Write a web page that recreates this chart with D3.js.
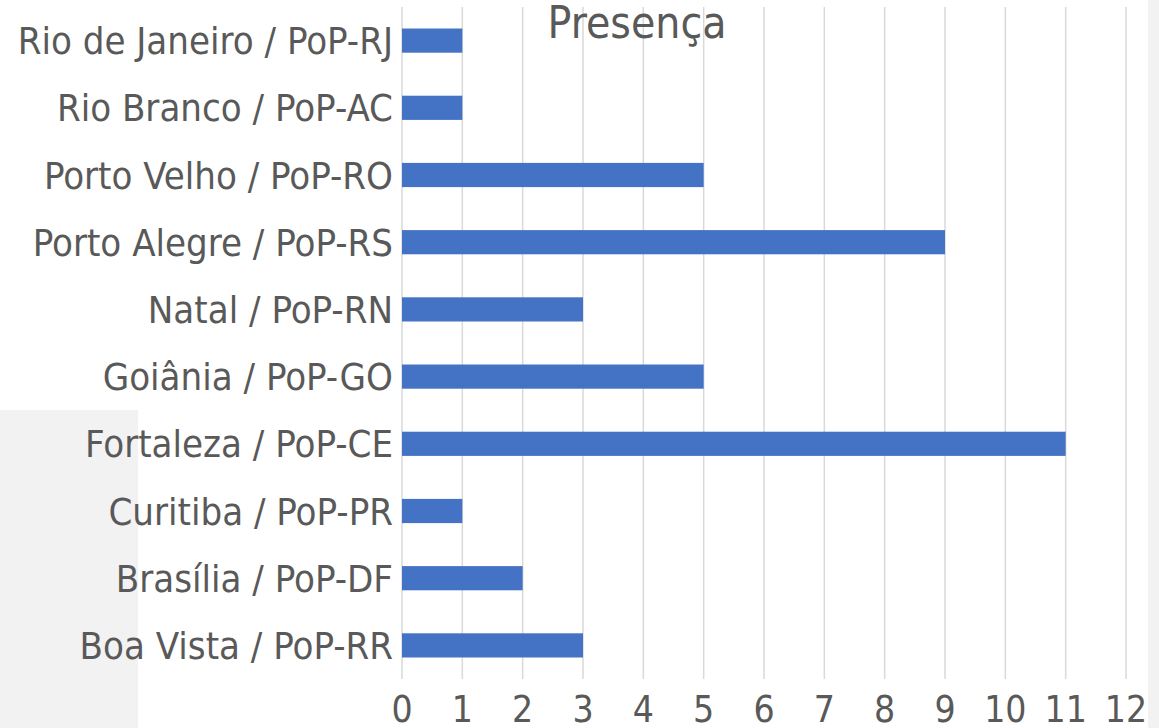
<!DOCTYPE html>
<html>
<head>
<meta charset="utf-8">
<script src="https://cdn.jsdelivr.net/npm/d3@7"></script>
<style>
  body { margin: 0; background: #fff; }
  text { font-family: "DejaVu Sans Condensed", "DejaVu Sans", sans-serif; font-stretch: condensed; fill: #595959; }
</style>
</head>
<body>
<div class="canvas"></div>
<script>
const categories = [
    'Rio de Janeiro / PoP-RJ',
    'Rio Branco / PoP-AC',
    'Porto Velho / PoP-RO',
    'Porto Alegre / PoP-RS',
    'Natal / PoP-RN',
    'Goiânia / PoP-GO',
    'Fortaleza / PoP-CE',
    'Curitiba / PoP-PR',
    'Brasília / PoP-DF',
    'Boa Vista / PoP-RR'
]
const values = [1, 1, 5, 9, 3, 5, 11, 1, 2, 3]
const ticks = [0, 1, 2, 3, 4, 5, 6, 7, 8, 9, 10, 11, 12]

const dims = { width: 1159, height: 728 }
const plot = { left: 402, right: 1126, top: 7, bottom: 679 }

const svg = d3.select('.canvas')
    .append('svg')
    .attr('width', dims.width)
    .attr('height', dims.height)

// grey patches at the edges of the original screenshot
svg.append('rect')
    .attr('x', 0).attr('y', 410)
    .attr('width', 138).attr('height', dims.height - 410)
    .attr('fill', '#f2f2f2')
svg.append('rect')
    .attr('x', 1148).attr('y', 0)
    .attr('width', dims.width - 1148).attr('height', dims.height)
    .attr('fill', '#f2f2f2')

const x = d3.scaleLinear()
    .domain([0, 12])
    .range([plot.left, plot.right])

const y = d3.scaleBand()
    .domain(categories)
    .range([plot.top, plot.bottom])
    .paddingInner(0.64)
    .paddingOuter(0.32)

// gridlines
svg.append('g')
    .selectAll('line')
    .data(ticks)
    .enter()
    .append('line')
        .attr('x1', d => x(d))
        .attr('x2', d => x(d))
        .attr('y1', plot.top)
        .attr('y2', plot.bottom)
        .attr('stroke', '#d9d9d9')
        .attr('stroke-width', 1.5)

// bars
svg.append('g')
    .selectAll('rect')
    .data(values)
    .enter()
    .append('rect')
        .attr('x', x(0))
        .attr('y', (d, i) => y(categories[i]))
        .attr('width', d => x(d) - x(0))
        .attr('height', y.bandwidth())
        .attr('fill', '#4472c4')

// category labels
svg.append('g')
    .selectAll('text')
    .data(categories)
    .enter()
    .append('text')
        .attr('x', 393)
        .attr('y', d => y(d) + y.bandwidth() / 2)
        .attr('dy', '0.36em')
        .attr('text-anchor', 'end')
        .attr('font-size', 38)
        .text(d => d)

// x tick labels
svg.append('g')
    .selectAll('text')
    .data(ticks)
    .enter()
    .append('text')
        .attr('x', d => x(d))
        .attr('y', 722)
        .attr('text-anchor', 'middle')
        .attr('font-size', 37)
        .text(d => d)

// title
svg.append('text')
    .attr('x', 637)
    .attr('y', 38)
    .attr('text-anchor', 'middle')
    .attr('font-size', 44)
    .text('Presença')
</script>
</body>
</html>
